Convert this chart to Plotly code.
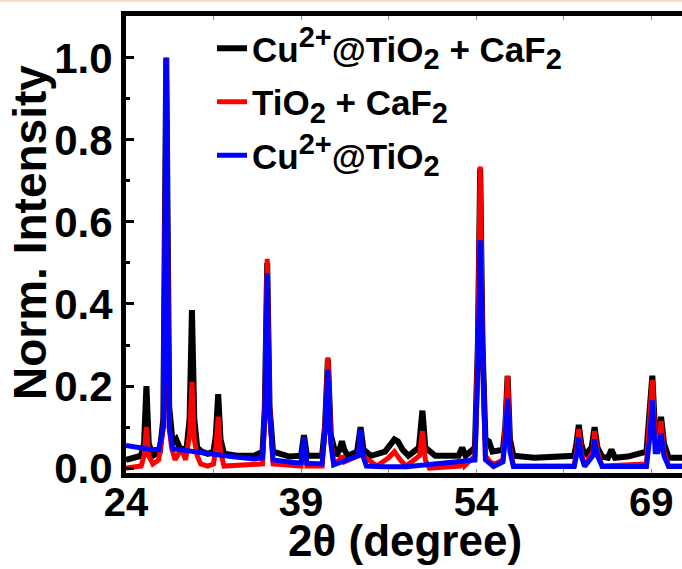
import plotly.graph_objects as go

# ---- data ----
black_x = [24.0, 24.8, 25.3, 25.55, 25.75, 25.95, 26.3, 26.9, 27.2, 27.45, 27.7, 28.0, 28.3, 28.6, 28.9, 29.2,
           29.45, 29.65, 29.85, 30.1, 30.5, 31.0, 31.5, 31.7, 31.9, 32.1, 32.4, 33.5, 35.0, 35.7, 35.9, 36.1,
           36.3, 36.6, 38.0, 39.0, 39.25, 39.5, 40.8, 41.05, 41.3, 41.55, 42.0, 42.3, 42.5, 42.7, 43.0, 43.8,
           44.1, 44.35, 45.0, 46.2, 46.7, 47.0, 47.3, 47.7, 48.2, 49.1, 49.4, 49.65, 50.5, 52.5, 52.8, 53.1,
           53.9, 54.15, 54.35, 54.55, 54.8, 55.1, 55.4, 56.3, 56.5, 56.7, 56.9, 57.2, 59.0, 60.5, 62.4, 62.6,
           62.8, 63.0, 63.3, 63.9, 64.15, 64.4, 64.8, 65.3, 65.6, 65.9, 67.0, 68.6, 68.9, 69.1, 69.35, 69.6,
           69.85, 70.1, 70.5, 72.0]
black_y = [0.02, 0.025, 0.03, 0.06, 0.20, 0.06, 0.03, 0.04, 0.12, 1.0, 0.15, 0.06, 0.07, 0.05, 0.045, 0.05,
           0.12, 0.385, 0.12, 0.05, 0.04, 0.035, 0.04, 0.08, 0.18, 0.07, 0.035, 0.03, 0.03, 0.04, 0.15, 0.50,
           0.15, 0.04, 0.028, 0.03, 0.08, 0.03, 0.03, 0.10, 0.265, 0.08, 0.03, 0.045, 0.065, 0.045, 0.03, 0.04,
           0.10, 0.045, 0.03, 0.04, 0.06, 0.07, 0.065, 0.045, 0.03, 0.05, 0.14, 0.05, 0.03, 0.03, 0.05, 0.03,
           0.05, 0.30, 0.73, 0.30, 0.07, 0.065, 0.04, 0.045, 0.10, 0.225, 0.07, 0.03, 0.025, 0.028, 0.03, 0.06,
           0.105, 0.06, 0.03, 0.05, 0.10, 0.05, 0.028, 0.025, 0.045, 0.025, 0.028, 0.04, 0.15, 0.225, 0.08, 0.07,
           0.125, 0.06, 0.025, 0.025]

red_x = [24.0, 25.3, 25.55, 25.75, 25.95, 26.3, 26.8, 27.2, 27.45, 27.7, 27.9, 28.2, 28.5, 28.8, 29.1, 29.45,
         29.65, 29.85, 30.1, 30.4, 31.0, 31.5, 31.7, 31.9, 32.1, 32.4, 35.7, 35.9, 36.1, 36.3, 36.6, 39.0,
         39.25, 39.5, 40.8, 41.05, 41.3, 41.55, 41.8, 42.3, 42.5, 42.7, 43.9, 44.1, 44.3, 45.5, 46.5, 47.0,
         47.5, 48.0, 49.15, 49.4, 49.65, 50.0, 52.6, 52.8, 53.0, 53.9, 54.15, 54.35, 54.55, 54.8, 55.2, 55.6,
         56.3, 56.5, 56.7, 56.9, 57.2, 62.4, 62.6, 62.8, 63.0, 63.3, 64.0, 64.15, 64.4, 64.8, 68.6, 68.9,
         69.1, 69.35, 69.6, 69.85, 70.1, 70.5, 72.0]
red_y = [0.0, 0.005, 0.03, 0.10, 0.03, 0.01, 0.02, 0.10, 1.0, 0.10, 0.05, 0.02, 0.035, 0.045, 0.02, 0.08,
         0.21, 0.07, 0.03, 0.01, 0.005, 0.01, 0.05, 0.125, 0.04, 0.005, 0.01, 0.15, 0.51, 0.15, 0.01, 0.005,
         0.05, 0.005, 0.005, 0.10, 0.27, 0.07, 0.01, 0.02, 0.03, 0.015, 0.03, 0.09, 0.03, 0.005, 0.025, 0.04,
         0.02, 0.005, 0.03, 0.09, 0.02, 0.0, 0.005, 0.02, 0.005, 0.03, 0.30, 0.735, 0.30, 0.03, 0.015, 0.01,
         0.02, 0.10, 0.225, 0.05, 0.005, 0.005, 0.04, 0.095, 0.04, 0.005, 0.04, 0.09, 0.04, 0.005, 0.01, 0.12,
         0.215, 0.06, 0.05, 0.115, 0.04, 0.005, 0.005]

blue_x = [24.0, 25.0, 26.0, 26.8, 27.2, 27.45, 27.7, 28.0, 29.0, 30.0, 31.0, 32.0, 33.0, 34.0, 35.0, 35.7,
          35.9, 36.1, 36.3, 36.6, 37.5, 38.5, 39.0, 39.25, 39.5, 40.8, 41.05, 41.3, 41.55, 41.8, 43.9, 44.1,
          44.3, 44.6, 46.0, 48.0, 53.9, 54.15, 54.35, 54.55, 54.8, 55.5, 56.3, 56.5, 56.7, 56.9, 57.2, 62.4,
          62.6, 62.8, 63.0, 63.3, 64.0, 64.15, 64.4, 64.8, 68.6, 68.9, 69.1, 69.35, 69.6, 69.85, 70.1, 70.5,
          72.0]
blue_y = [0.055, 0.05, 0.046, 0.045, 0.10, 1.0, 0.10, 0.047, 0.044, 0.04, 0.036, 0.032, 0.028, 0.025, 0.022, 0.025,
          0.14, 0.475, 0.14, 0.02, 0.016, 0.013, 0.013, 0.075, 0.012, 0.01, 0.09, 0.24, 0.06, 0.008, 0.03, 0.093,
          0.03, 0.005, 0.003, 0.003, 0.02, 0.25, 0.555, 0.25, 0.02, 0.004, 0.015, 0.07, 0.17, 0.04, 0.004, 0.004,
          0.03, 0.075, 0.03, 0.004, 0.03, 0.07, 0.03, 0.004, 0.004, 0.08, 0.165, 0.04, 0.04, 0.085, 0.03, 0.004,
          0.004]

SUP = '<sup><span style="font-size:29px">%s</span></sup>'
SUB = '<sub><span style="font-size:29px">%s</span></sub>'
names = ["Cu" + SUP % "2+" + "@TiO" + SUB % "2" + " + CaF" + SUB % "2",
         "TiO" + SUB % "2" + " + CaF" + SUB % "2",
         "Cu" + SUP % "2+" + "@TiO" + SUB % "2"]
x_ticks = [24, 39, 54, 69]
y_ticks = [0.0, 0.2, 0.4, 0.6, 0.8, 1.0]

FONT = "Liberation Sans, Arial, sans-serif"

fig = go.Figure()
fig.add_trace(go.Scatter(x=black_x, y=black_y, mode="lines", name=names[0], legendgroup="a",
                         line=dict(color="#000000", width=6)))
fig.add_trace(go.Scatter(x=red_x, y=red_y, mode="lines", name=names[1], legendgroup="b",
                         line=dict(color="#ff0000", width=5)))
fig.add_trace(go.Scatter(x=blue_x, y=blue_y, mode="lines", name=names[2], legendgroup="c",
                         line=dict(color="#0000ff", width=5)))

W, H = 682, 569
L, R, T, B = 126, 0, 16, 96
pw, ph = W - L - R, H - T - B

fig.update_layout(
    width=W, height=H,
    margin=dict(l=L, r=R, t=T, b=B),
    paper_bgcolor="white", plot_bgcolor="white",
    font=dict(family=FONT, color="black"),
    showlegend=True,
    legend=dict(x=(212 - L) / pw, y=1.0 - 3 / ph, xanchor="left", yanchor="top",
                bgcolor="rgba(0,0,0,0)", itemwidth=30,
                font=dict(family=FONT, size=35, weight="bold", color="black"),
                tracegroupgap=5),
    xaxis=dict(range=[24, 24 + pw / 11.67], tickvals=x_ticks, ticktext=[str(v) for v in x_ticks],
               showgrid=False, zeroline=False, showline=True, mirror="ticks", linecolor="black",
               linewidth=5, ticks="inside", ticklen=4, tickwidth=1, tickcolor="#888",
               ticklabelstandoff=-10,
               tickfont=dict(family=FONT, size=40, weight="bold"),
               minor=dict(dtick=7.5, tick0=24, ticks="inside", ticklen=4, tickcolor="#888")),
    yaxis=dict(range=[-0.012, 1.102], tickvals=y_ticks, ticktext=["%.1f" % v for v in y_ticks],
               showgrid=False, zeroline=False, showline=True, mirror=False, linecolor="black",
               linewidth=5, ticks="inside", ticklen=8, tickwidth=3, tickcolor="black",
               tickfont=dict(family=FONT, size=42, weight="bold"),
               minor=dict(dtick=0.1, tick0=0, ticks="inside", ticklen=4, tickwidth=3, tickcolor="black")),
    annotations=[
        dict(text="Norm. Intensity", xref="paper", yref="paper", x=(30 - L) / pw, y=(473 - 233) / ph,
             xanchor="center", yanchor="middle", textangle=-90, showarrow=False,
             font=dict(family=FONT, size=46, weight="bold", color="black")),
        dict(text="2θ (degree)", xref="paper", yref="paper", x=(405 - L) / pw, y=(473 - 540) / ph,
             xanchor="center", yanchor="middle", showarrow=False,
             font=dict(family=FONT, size=44, weight="bold", color="black")),
    ],
    shapes=[dict(type="rect", xref="paper", yref="paper", x0=-L / pw, x1=1.0,
                 y0=(473 - 2) / ph, y1=(473 + 0.5) / ph, line=dict(width=0),
                 fillcolor="#f8dcc0", layer="above")],
)

fig.write_html("out.html")
